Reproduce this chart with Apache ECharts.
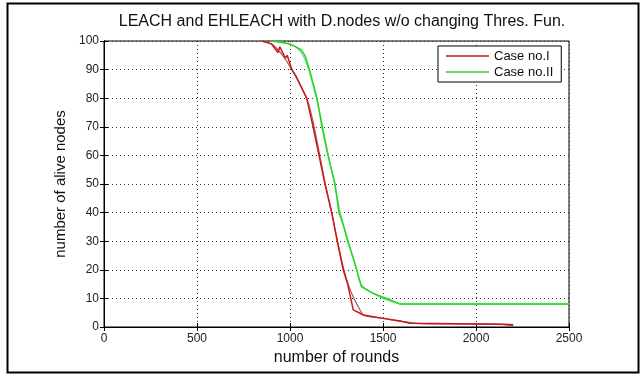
<!DOCTYPE html>
<html><head><meta charset="utf-8">
<script src="https://cdn.jsdelivr.net/npm/echarts@6/dist/echarts.min.js"></script>
<style>html,body{margin:0;padding:0;background:#fff}#c{width:641px;height:376px}</style>
</head><body><div id="c"></div>
<script>
var titleText = "LEACH and EHLEACH with D.nodes w/o changing Thres. Fun.";
var xTicks = [0, 500, 1000, 1500, 2000, 2500];
var yTicks = [0, 10, 20, 30, 40, 50, 60, 70, 80, 90, 100];

var case1Rounds = [850, 900, 935, 945, 975, 985, 1010, 1030, 1060, 1090, 1124, 1156, 1188, 1224, 1254, 1286, 1310, 1340, 1395, 1493, 1591, 1645, 2150, 2200];
var case1Alive  = [100, 99, 96, 98, 94, 95, 90, 88, 84, 80, 70, 60, 50, 40, 30, 20, 15, 6, 4.2, 3.1, 2.1, 1.3, 1, 0.8];

var case1FitRounds = [830, 900, 960, 1010, 1060, 1100, 1130, 1160, 1190, 1225, 1255, 1290, 1330, 1385, 1400, 1500, 1600, 1700, 2100, 2150, 2200];
var case1FitAlive  = [100, 99, 95, 90, 84, 78, 70, 60, 50, 40, 30, 20, 12, 5, 4, 3, 2, 1.2, 1, 0.8, 0.4];

var case2Rounds = [900, 1000, 1060, 1080, 1105, 1125, 1145, 1172, 1204, 1242, 1263, 1290, 1312, 1340, 1358, 1385, 1440, 1493, 1540, 1591, 2500];
var case2Alive  = [100, 99, 97, 95, 90, 85, 80, 70, 60, 50, 40, 35, 30, 24, 20, 14, 12, 10.6, 9.5, 8, 8];

var case2FitRounds = [920, 990, 1030, 1070, 1100, 1130, 1160, 1200, 1240, 1270, 1290, 1300, 1330, 1360, 1380, 1440, 1500, 1560, 1600, 2500];
var case2FitAlive  = [100, 99, 98, 95, 90, 83, 75, 62, 50, 40, 35, 32, 26, 20, 15, 12, 10, 8.6, 8, 8];

function pairs(xs, ys) { return xs.map(function (x, i) { return [x, ys[i]]; }); }

var FONT = "Liberation Sans";
var chart = echarts.init(document.getElementById('c'), null, {renderer: 'canvas'});
var tick = {show: true, inside: true, length: 4, lineStyle: {color: '#000'}};
var split = {show: true, lineStyle: {color: '#333', type: [1, 3], width: 1}};
var plain = function (v) { return String(v); };
chart.setOption({
  animation: false,
  backgroundColor: '#fff',
  title: {
    text: titleText, left: 337, top: 9, textAlign: 'center',
    textStyle: {fontFamily: FONT, fontSize: 16, fontWeight: 'normal', color: '#111'}
  },
  grid: {left: 104, right: 72, top: 41, bottom: 49, show: true, borderColor: '#000', borderWidth: 1, backgroundColor: '#fff'},
  legend: {
    orient: 'vertical', left: 438, top: 46,
    data: ['Case no.I', 'Case no.II'],
    icon: 'rect', itemWidth: 43, itemHeight: 1.5, itemGap: 2,
    padding: [3, 8, 3, 8],
    borderColor: '#000', borderWidth: 1, backgroundColor: '#fff',
    textStyle: {fontFamily: FONT, fontSize: 13, color: '#111', lineHeight: 14}
  },
  xAxis: [{
    type: 'value', min: 0, max: 2500, interval: 500,
    name: 'number of rounds', nameLocation: 'middle', nameGap: 21,
    nameTextStyle: {fontFamily: FONT, fontSize: 16, color: '#111'},
    axisLabel: {fontFamily: FONT, fontSize: 12, color: '#222', margin: 6, formatter: plain},
    axisLine: {show: true, lineStyle: {color: '#000'}}, axisTick: tick, splitLine: split
  }, {
    type: 'value', min: 0, max: 2500, interval: 500, position: 'top',
    axisLabel: {show: false}, axisLine: {show: true, lineStyle: {color: '#000'}},
    axisTick: tick, splitLine: {show: false}
  }],
  yAxis: [{
    type: 'value', min: 0, max: 100, interval: 10,
    name: 'number of alive nodes', nameLocation: 'middle', nameGap: 33, nameRotate: 90,
    nameTextStyle: {fontFamily: FONT, fontSize: 15, color: '#111'},
    axisLabel: {fontFamily: FONT, fontSize: 12, color: '#222', margin: 5, formatter: plain},
    axisLine: {show: true, lineStyle: {color: '#000'}}, axisTick: tick, splitLine: split
  }, {
    type: 'value', min: 0, max: 100, interval: 10, position: 'right',
    axisLabel: {show: false}, axisLine: {show: true, lineStyle: {color: '#000'}},
    axisTick: tick, splitLine: {show: false}
  }],
  series: [
    {name: 'Case I fit', type: 'line', data: pairs(case1FitRounds, case1FitAlive), symbol: 'none', smooth: 0.3,
     lineStyle: {color: '#a85a5a', width: 1.2}, z: 2},
    {name: 'Case no.I', type: 'line', data: pairs(case1Rounds, case1Alive), symbol: 'none',
     lineStyle: {color: '#c81818', width: 1.5}, itemStyle: {color: '#b82020'}, z: 3},
    {name: 'Case II fit', type: 'line', data: pairs(case2FitRounds, case2FitAlive), symbol: 'none', smooth: 0.3,
     lineStyle: {color: '#6cd86c', width: 1.2}, z: 2},
    {name: 'Case no.II', type: 'line', data: pairs(case2Rounds, case2Alive), symbol: 'none',
     lineStyle: {color: '#22d822', width: 1.5}, itemStyle: {color: '#30d030'}, z: 3}
  ],
  graphic: [{
    type: 'rect', left: 5, top: 1, shape: {x: 0, y: 0, width: 631, height: 369},
    style: {fill: 'none', stroke: '#000', lineWidth: 2}, silent: true, z: 100
  }]
});
</script></body></html>
